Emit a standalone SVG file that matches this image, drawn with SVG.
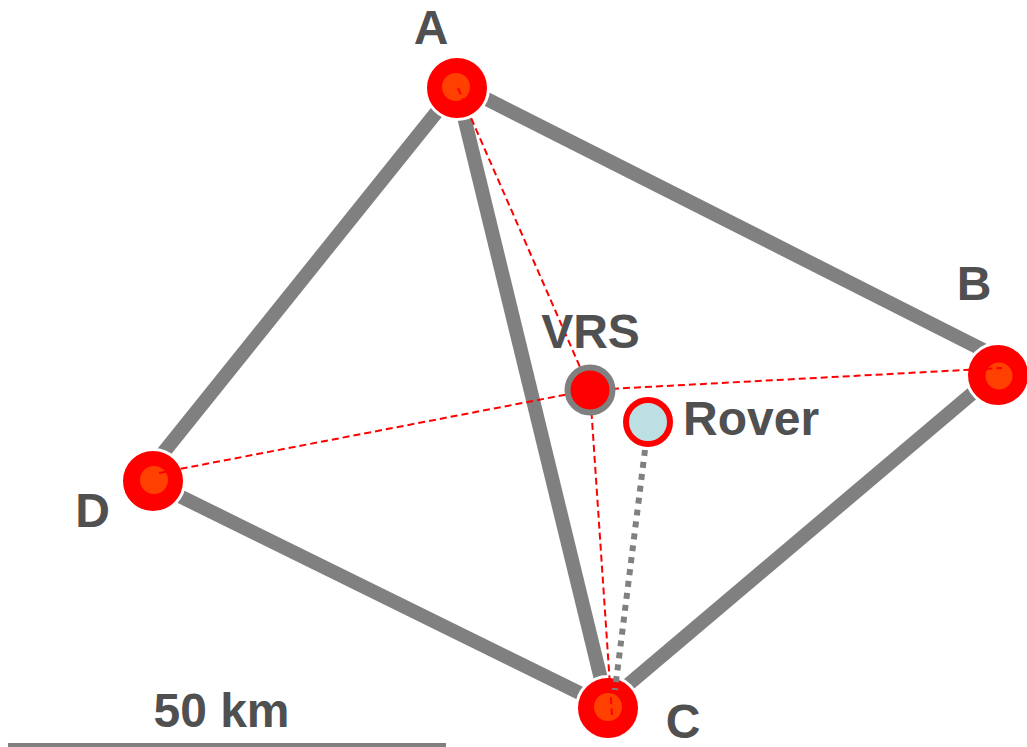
<svg xmlns="http://www.w3.org/2000/svg" width="1027" height="747" viewBox="0 0 1027 747">
  <style>
    .edge { stroke: #808080; stroke-width: 14; fill: none; }
    .link { stroke: #ff0000; stroke-width: 2; stroke-dasharray: 7 4; fill: none; }
    .station-outer { fill: #ff0000; stroke: #ffffff; stroke-width: 3; }
    .station-inner { fill: #ff4000; }
    .label { font-family: "Liberation Sans", Arial, sans-serif; font-weight: bold; font-size: 48px; fill: #505050; }
  </style>
  <rect width="1027" height="747" fill="#ffffff"/>

  <!-- baselines between reference stations -->
  <g id="connectors">
    <line class="edge" x1="457" y1="84" x2="999" y2="358"/>
    <line class="edge" x1="456" y1="88" x2="143" y2="478"/>
    <line class="edge" x1="457" y1="88" x2="608" y2="708"/>
    <line class="edge" x1="153" y1="483" x2="600" y2="703"/>
    <line class="edge" x1="610" y1="700" x2="1000" y2="370"/>
  </g>

  <!-- reference stations -->
  <g id="node-A">
    <circle class="station-outer" cx="457" cy="88" r="31.5"/>
    <circle class="station-inner" cx="456" cy="87" r="14"/>
    <text class="label" x="431" y="44" text-anchor="middle">A</text>
  </g>
  <g id="node-B">
    <circle class="station-outer" cx="998" cy="375" r="31.5"/>
    <circle class="station-inner" cx="999" cy="376" r="13.5"/>
    <text class="label" x="974" y="300" text-anchor="middle">B</text>
  </g>
  <g id="node-C">
    <circle class="station-outer" cx="608" cy="708" r="31.5"/>
    <circle class="station-inner" cx="608" cy="707" r="14"/>
    <text class="label" x="683" y="738" text-anchor="middle">C</text>
  </g>
  <g id="node-D">
    <circle class="station-outer" cx="153" cy="481" r="31.5"/>
    <circle class="station-inner" cx="154" cy="480" r="14"/>
    <text class="label" x="92.5" y="527" text-anchor="middle">D</text>
  </g>

  <!-- virtual station links -->
  <g id="vrs-links">
    <line class="link" x1="458" y1="88" x2="590" y2="390"/>
    <line class="link" x1="590" y1="390" x2="612" y2="715"/>
    <line class="link" x1="159" y1="473" x2="590" y2="390"/>
    <line class="link" x1="590" y1="390" x2="1002" y2="368"/>
    <line stroke="#808080" stroke-width="6" stroke-dasharray="6 6" x1="645" y1="450" x2="615" y2="690"/>
  </g>

  <g id="node-VRS">
    <circle cx="590" cy="390" r="22.5" fill="#ff0000" stroke="#808080" stroke-width="6"/>
    <text class="label" x="590.5" y="348" text-anchor="middle">VRS</text>
  </g>

  <g id="node-Rover">
    <circle cx="648" cy="422" r="22" fill="#bcdfe3" stroke="#ff0000" stroke-width="6"/>
    <text class="label" x="683" y="435">Rover</text>
  </g>

  <!-- scale bar -->
  <g id="scale">
    <line x1="8" y1="745.5" x2="446" y2="745.5" stroke="#808080" stroke-width="5"/>
    <text class="label" x="221.5" y="727" text-anchor="middle">50 km</text>
  </g>
</svg>
